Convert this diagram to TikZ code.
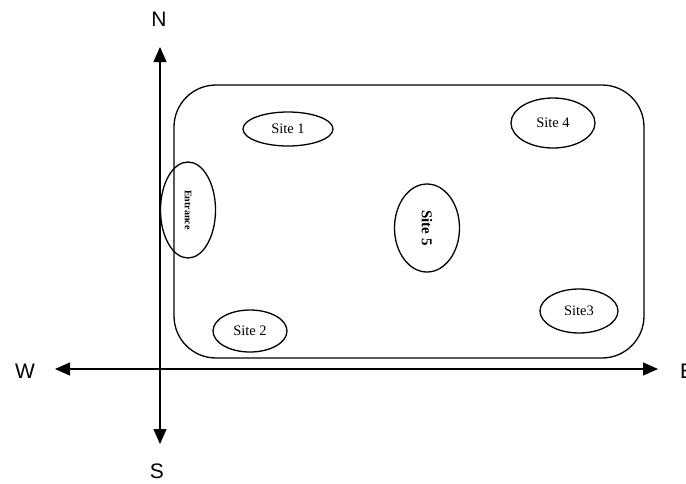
\documentclass[tikz,border=0pt]{standalone}
\usepackage{fontspec}
\setmainfont{Liberation Serif}
\newfontfamily\axisfont{Liberation Sans}
\usetikzlibrary{arrows.meta, shapes.geometric}

\begin{document}
\begin{tikzpicture}[x=1pt, y=-1pt]
\tikzstyle{site} = [ellipse, draw, line width=1.3pt, inner sep=0pt,
    font=\fontsize{14.5}{16}\selectfont]
\tikzstyle{arrow} = [line width=1.2pt,
    {Triangle[length=15pt,width=13pt]}-{Triangle[length=15pt,width=13pt]}]
\tikzstyle{dir} = [font=\axisfont\fontsize{21}{24}\selectfont, inner sep=0pt]

\useasboundingbox (0,0) rectangle (686,483);

% Park outline
\node [draw, line width=1.3pt, rounded corners=42pt, minimum width=470pt,
    minimum height=273pt] (park) at (409,221.5) {};

% Sites
\node [site, minimum width=90pt, minimum height=34pt] (site1) at (288,129) {Site 1};
\node [site, minimum width=84pt, minimum height=50pt] (site4) at (553,123) {Site 4};
\node [site, rotate=-90, minimum width=96pt, minimum height=55pt,
    font=\bfseries\fontsize{10}{12}\selectfont] (entrance) at (188,210) {Entrance};
\node [site, rotate=-90, minimum width=88pt, minimum height=65pt,
    font=\bfseries\fontsize{15}{17}\selectfont] (site5) at (427,228) {Site 5};
\node [site, minimum width=78pt, minimum height=44pt] (site3) at (579,311) {Site3};
\node [site, minimum width=74pt, minimum height=42pt] (site2) at (250,331) {Site 2};

% Compass
\node [dir] (N) at (159,19) {N};
\node [dir] (S) at (157,471) {S};
\node [dir] (W) at (25,371) {W};
\node [dir, anchor=west] (E) at (680,371) {E};
\coordinate (ntip) at (160,47);
\coordinate (stip) at (160,444);
\coordinate (wtip) at (55,369);
\coordinate (etip) at (658,369);

% Arrows
\draw [arrow] (ntip) -- (stip);
\draw [arrow] (wtip) -- (etip);
\end{tikzpicture}
\end{document}
